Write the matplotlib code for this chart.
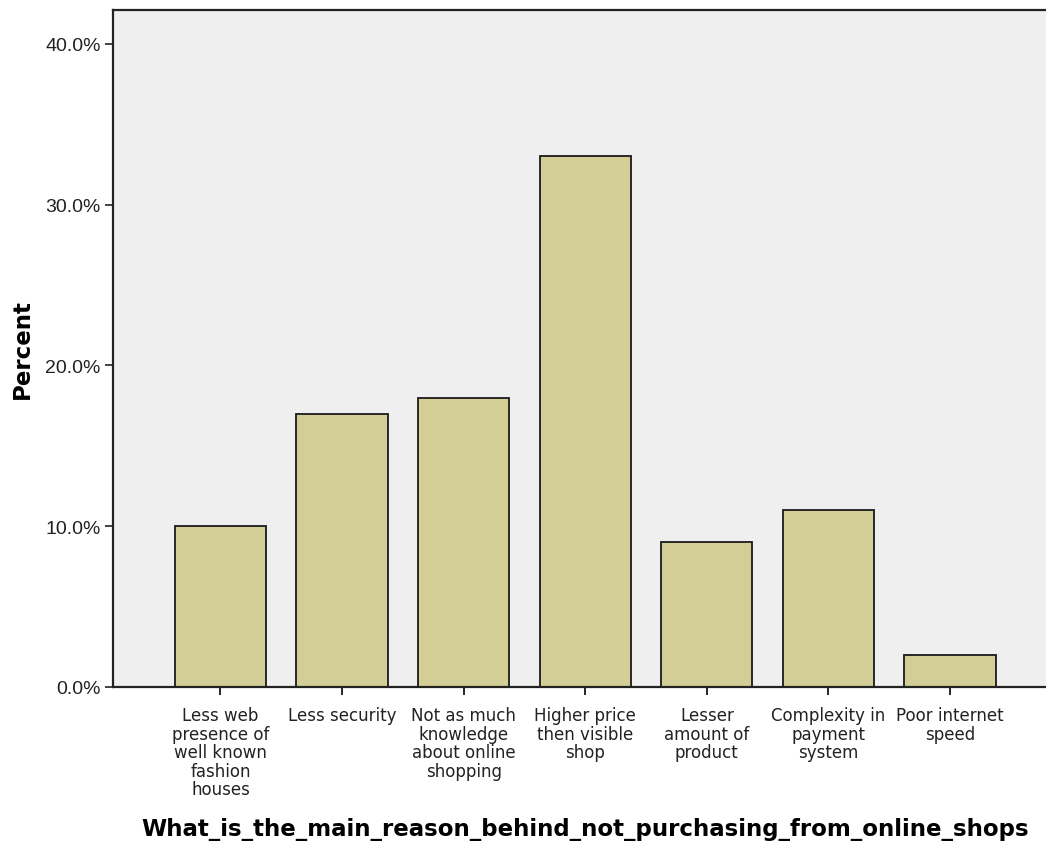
import matplotlib
matplotlib.use("Agg")
import matplotlib.pyplot as plt
from matplotlib.ticker import FuncFormatter

categories = [
    "Less web\npresence of\nwell known\nfashion\nhouses",
    "Less security",
    "Not as much\nknowledge\nabout online\nshopping",
    "Higher price\nthen visible\nshop",
    "Lesser\namount of\nproduct",
    "Complexity in\npayment\nsystem",
    "Poor internet\nspeed",
]
percent = [10.0, 17.0, 18.0, 33.0, 9.0, 11.0, 2.0]
yticks = [0, 10, 20, 30, 40]

plt.rcParams['font.family'] = ['DejaVu Sans']

fig = plt.figure(figsize=(10.46, 8.45), dpi=100)
ax = fig.add_axes([113/1046, 157/845, 944.5/1046, 677/845])
ax.set_facecolor('#efefef')

x = list(range(len(categories)))
ax.bar(x, percent, width=0.75, color='#d3ce96', edgecolor='#1a1a1a', linewidth=1.3, zorder=2)

ax.set_xlim(-0.884, 6.884)
ax.set_ylim(0, 42.1)
ax.set_yticks(yticks)
ax.yaxis.set_major_formatter(FuncFormatter(lambda v, p: f"{v:.1f}%"))
ax.set_xticks(x)
ax.set_xticklabels(categories, fontsize=12, linespacing=1.03, color='#222222',
                   family=['DejaVu Sans'])
ax.tick_params(axis='y', labelsize=14, length=6, width=1.2, direction='out',
               colors='#222222', pad=3)
for lbl in ax.get_yticklabels():
    lbl.set_family(['Liberation Sans', 'DejaVu Sans'])
ax.tick_params(axis='x', length=6, width=1.2, direction='out', pad=8)

for s in ['left', 'bottom', 'top', 'right']:
    ax.spines[s].set_linewidth(1.6)
    ax.spines[s].set_color('#222222')

ax.set_ylabel('Percent', fontsize=16.5, fontweight='bold')
ax.yaxis.set_label_coords((22 - 113) / 944.5, 0.5)
ax.yaxis.label.set_va('center')
ax.set_xlabel('What_is_the_main_reason_behind_not_purchasing_from_online_shops',
              fontsize=16.5, fontweight='bold')
ax.xaxis.set_label_coords(0.5, (688 - 830) / 677)
ax.xaxis.label.set_va('center')

fig.savefig('out.png', dpi=100)
